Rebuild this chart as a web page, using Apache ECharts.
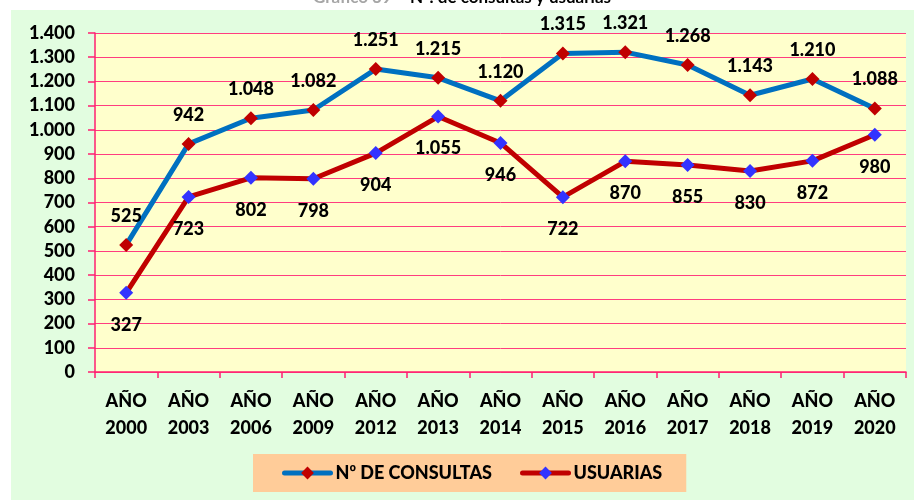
<!DOCTYPE html>
<html>
<head>
<meta charset="utf-8">
<script src="https://cdn.jsdelivr.net/npm/echarts@6/dist/echarts.min.js"></script>
<style>
  html, body { margin: 0; padding: 0; background: #ffffff; }
  #wrap { position: relative; width: 914px; height: 500px; background: #ffffff; overflow: hidden; }
  #panel { position: absolute; left: 11px; top: 10px; right: 0; bottom: 0; background: #E2FDE0; }
  #chart { position: absolute; left: 0; top: 0; width: 914px; height: 500px; }
</style>
</head>
<body>
<div id="wrap">
  <div id="panel"></div>
  <div id="chart"></div>
</div>
<script>
// Years on the horizontal axis
const years = ['2000', '2003', '2006', '2009', '2012', '2013', '2014', '2015', '2016', '2017', '2018', '2019', '2020'];
// Number of consultations per year
const consultas = [525, 942, 1048, 1082, 1251, 1215, 1120, 1315, 1321, 1268, 1143, 1210, 1088];
// Number of users per year
const usuarias = [327, 723, 802, 798, 904, 1055, 946, 722, 870, 855, 830, 872, 980];

const categories = years.map(y => 'AÑO\n' + y);
const FONT = 'Lato, "Open Sans", sans-serif';
const ORD_FONT = '"Open Sans", "DejaVu Sans", sans-serif';
const WEIGHT = 900;

// Spanish-style thousands separator: 1.048
function fmt(v) {
  const s = String(Math.round(v));
  return s.replace(/\B(?=(\d{3})+(?!\d))/g, '.');
}

// Draw the ordinal sign with a font that has a proper "º" glyph
function withOrdinal(name) {
  return name.split('º').map(s => s ? '{t|' + s + '}' : '').join('{o|º}');
}

const chart = echarts.init(document.getElementById('chart'), null, { renderer: 'canvas' });

chart.setOption({
  backgroundColor: 'transparent',
  animation: false,
  graphic: [{
    type: 'text',
    left: 313,
    top: -11,
    style: {
      text: '{g|Gráfico 39 – }{b|N}{o|º}{b|. de consultas y usuarias}',
      rich: {
        g: { fontFamily: FONT, fontWeight: 'bold', fontSize: 17, fill: '#A6A6A6' },
        b: { fontFamily: FONT, fontWeight: 'bold', fontSize: 17, fill: '#000000' },
        o: { fontFamily: ORD_FONT, fontWeight: 'bold', fontSize: 17, fill: '#000000' }
      }
    }
  }],
  grid: {
    left: 95, right: 8, top: 33, bottom: 128,
    show: true,
    backgroundColor: '#FFFFCC',
    borderWidth: 0
  },
  legend: {
    bottom: 8,
    left: 253,
    width: 434,
    itemWidth: 46,
    itemHeight: 16,
    itemGap: 28,
    padding: [10, 24, 10, 29],
    backgroundColor: '#FFCC99',
    lineStyle: { width: 5, cap: 'round' },
    formatter: withOrdinal,
    textStyle: {
      fontFamily: FONT, fontWeight: WEIGHT, fontSize: 18, color: '#000000',
      rich: {
        t: { fontFamily: FONT, fontWeight: WEIGHT, fontSize: 18, color: '#000000' },
        o: { fontFamily: ORD_FONT, fontWeight: 'bold', fontSize: 17, color: '#000000' }
      }
    },
    data: ['Nº DE CONSULTAS', 'USUARIAS']
  },
  xAxis: {
    type: 'category',
    data: categories,
    boundaryGap: true,
    axisLine: { show: true, lineStyle: { color: '#FF1F70', width: 1.5 } },
    axisTick: { show: true, length: 6, lineStyle: { color: '#FF1F70', width: 1.5 } },
    axisLabel: {
      margin: 16,
      fontFamily: FONT, fontWeight: WEIGHT, fontSize: 18, color: '#000000',
      lineHeight: 27, interval: 0
    },
    splitLine: { show: false }
  },
  yAxis: {
    type: 'value',
    min: 0, max: 1400, interval: 100,
    axisLine: { show: true, lineStyle: { color: '#FF1F70', width: 1.5 } },
    axisTick: { show: true, length: 7, lineStyle: { color: '#FF1F70', width: 1.5 } },
    axisLabel: {
      margin: 20,
      fontFamily: FONT, fontWeight: WEIGHT, fontSize: 18, color: '#000000',
      formatter: fmt
    },
    splitLine: { show: true, lineStyle: { color: '#FF3D80', width: 1 } }
  },
  series: [
    {
      name: 'Nº DE CONSULTAS',
      type: 'line',
      data: consultas,
      symbol: 'diamond',
      symbolSize: 14,
      lineStyle: { color: '#0070C0', width: 5 },
      itemStyle: { color: '#C00000' },
      label: {
        show: true, position: 'top', distance: 13,
        fontFamily: FONT, fontWeight: WEIGHT, fontSize: 18, color: '#000000',
        formatter: p => fmt(p.value)
      },
      z: 3
    },
    {
      name: 'USUARIAS',
      type: 'line',
      data: usuarias,
      symbol: 'diamond',
      symbolSize: 14,
      lineStyle: { color: '#C00000', width: 5 },
      itemStyle: { color: '#3333FF' },
      label: {
        show: true, position: 'bottom', distance: 16,
        fontFamily: FONT, fontWeight: WEIGHT, fontSize: 18, color: '#000000',
        formatter: p => fmt(p.value)
      },
      z: 2
    }
  ]
});
</script>
</body>
</html>
